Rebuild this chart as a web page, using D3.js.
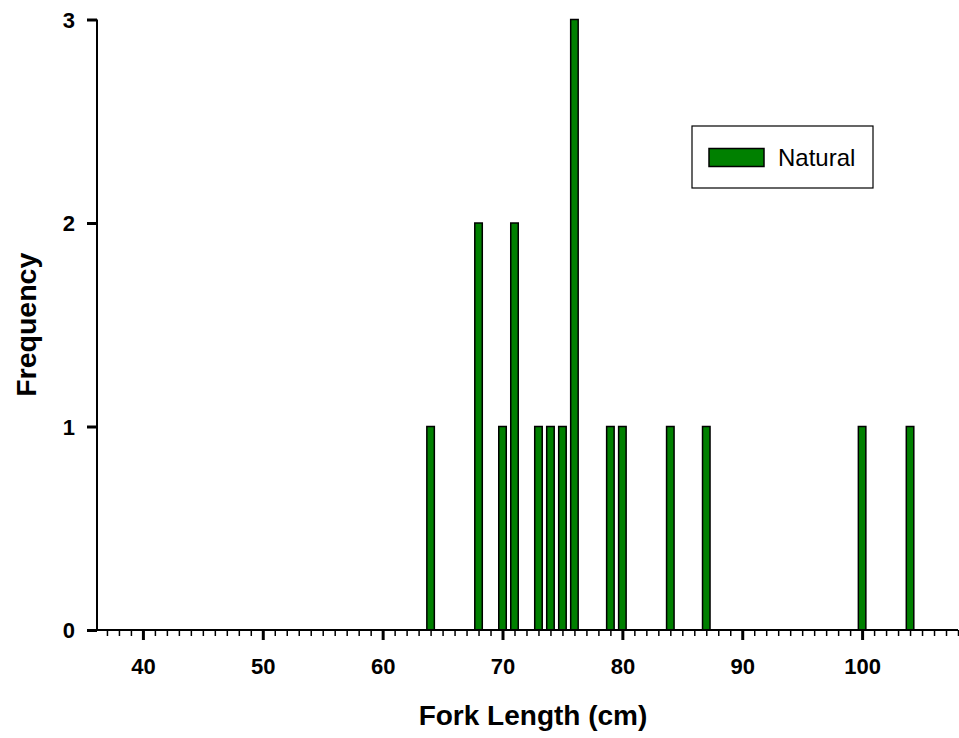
<!DOCTYPE html>
<html>
<head>
<meta charset="utf-8">
<script src="https://cdn.jsdelivr.net/npm/d3@7"></script>
<style>
  html, body { margin: 0; padding: 0; background: #fff; }
  svg { display: block; font-family: "Liberation Sans", Arial, sans-serif; }
</style>
</head>
<body>
<svg id="chart" width="959" height="738"></svg>
<script>
// Fork length (cm) bins and their counts
const forkLengths = [64, 68, 70, 71, 73, 74, 75, 76, 79, 80, 84, 87, 100, 104];
const frequencies = [1, 2, 1, 2, 1, 1, 1, 3, 1, 1, 1, 1, 1, 1];
const xMajorTicks = [40, 50, 60, 70, 80, 90, 100];
const yTicks = [0, 1, 2, 3];
const seriesName = "Natural";

const FONT = "'Liberation Sans', Arial, sans-serif";
const svg = d3.select("#chart");
const plot = { left: 97, right: 958, top: 19.5, bottom: 630 };

const x = d3.scaleLinear().domain([36.17, 108]).range([plot.left, plot.right]);
const y = d3.scaleLinear().domain([0, 3]).range([plot.bottom, plot.top]);

const barWidth = 7.5;
const fill = "#008000";

// Bars
svg.append("g").selectAll("rect")
  .data(forkLengths.map((v, i) => ({ v, n: frequencies[i] })))
  .join("rect")
  .attr("x", d => x(d.v) - barWidth / 2)
  .attr("y", d => y(d.n))
  .attr("width", barWidth)
  .attr("height", d => y(0) - y(d.n))
  .attr("fill", fill)
  .attr("stroke", "#000")
  .attr("stroke-width", 1.5);

// X axis: minor ticks every 1 cm, major ticks with labels every 10 cm
const minorTicks = d3.range(37, 109).filter(v => v % 10 !== 0);
const xAxisMinor = d3.axisBottom(x).tickValues(minorTicks).tickSize(6).tickFormat("");
const xAxisMajor = d3.axisBottom(x).tickValues(xMajorTicks).tickSize(10);

const gxMinor = svg.append("g").attr("transform", `translate(0,${plot.bottom})`).call(xAxisMinor);
gxMinor.select(".domain").remove();
gxMinor.selectAll("line").attr("stroke", "#000").attr("stroke-width", 1.5);

const gxMajor = svg.append("g").attr("transform", `translate(0,${plot.bottom})`).call(xAxisMajor);
gxMajor.select(".domain").remove();
gxMajor.selectAll("line").attr("stroke", "#000").attr("stroke-width", 3);
gxMajor.selectAll("text")
  .attr("y", 44).attr("dy", null)
  .attr("font-size", 22).attr("font-weight", "bold").attr("fill", "#000")
  .attr("font-family", FONT);

svg.append("line")
  .attr("x1", plot.left).attr("x2", plot.right)
  .attr("y1", plot.bottom).attr("y2", plot.bottom)
  .attr("stroke", "#000").attr("stroke-width", 2);

// Y axis
const yAxis = d3.axisLeft(y).tickValues(yTicks).tickSize(10).tickFormat(d3.format("d"));
const gy = svg.append("g").attr("transform", `translate(${plot.left},0)`).call(yAxis);
gy.select(".domain").remove();
gy.selectAll("line").attr("stroke", "#000").attr("stroke-width", 3);
gy.selectAll("text")
  .attr("x", -22).attr("dy", "0.36em")
  .attr("font-size", 22).attr("font-weight", "bold").attr("fill", "#000")
  .attr("font-family", FONT);

svg.append("line")
  .attr("x1", plot.left).attr("x2", plot.left)
  .attr("y1", plot.top).attr("y2", plot.bottom + 1)
  .attr("stroke", "#000").attr("stroke-width", 2);

// Axis titles
svg.append("text")
  .attr("x", 533)
  .attr("y", 725)
  .attr("text-anchor", "middle")
  .attr("font-size", 28).attr("font-weight", "bold")
  .text("Fork Length (cm)");

svg.append("text")
  .attr("transform", `translate(36,${(plot.top + plot.bottom) / 2}) rotate(-90)`)
  .attr("text-anchor", "middle")
  .attr("font-size", 28.5).attr("font-weight", "bold")
  .text("Frequency");

// Legend
const legend = svg.append("g").attr("transform", "translate(692,126)");
legend.append("rect")
  .attr("width", 181).attr("height", 62)
  .attr("fill", "#fff").attr("stroke", "#000").attr("stroke-width", 1.2);
legend.append("rect")
  .attr("x", 17).attr("y", 22.5).attr("width", 55).attr("height", 18)
  .attr("fill", fill).attr("stroke", "#000").attr("stroke-width", 1.5);
legend.append("text")
  .attr("x", 86).attr("y", 40)
  .attr("font-size", 24)
  .text(seriesName);
</script>
</body>
</html>
